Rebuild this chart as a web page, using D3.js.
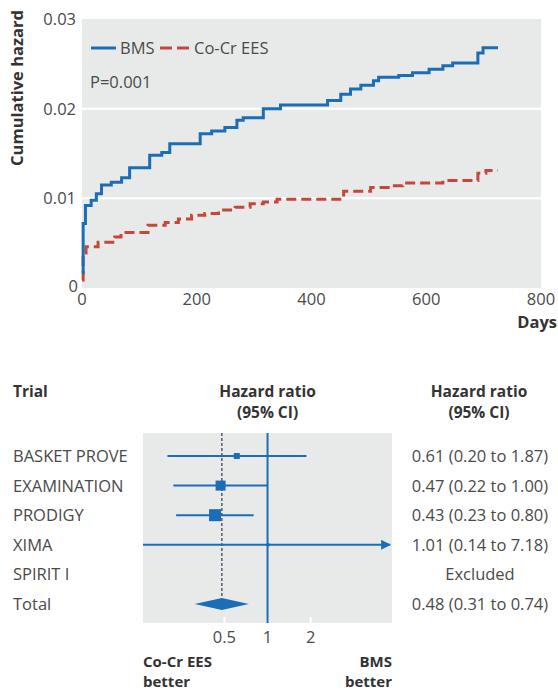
<!DOCTYPE html>
<html lang="en">
<head>
<meta charset="utf-8">
<script src="https://d3js.org/d3.v7.min.js"></script>
<style>
  body { margin: 0; background: #fff; }
  svg text { font-family: "Open Sans", "Noto Sans", sans-serif; fill: #4a4a4a; }
</style>
</head>
<body>
<div id="chart"></div>
<script>
// cumulative hazard, step points [day, hazard]
const bmsDays   = [0, 2, 6, 16, 25, 34, 51, 69, 83, 118, 139, 153, 206, 226, 249, 270, 281, 316, 346, 428, 451, 468, 486, 508, 517, 552, 576, 605, 629, 646, 690, 699, 725];
const bmsHazard = [0.0017, 0.0072, 0.0092, 0.0098, 0.0105, 0.0115, 0.0118, 0.0123, 0.0134, 0.0148, 0.0151, 0.0161, 0.0172, 0.0175, 0.0179, 0.0187, 0.019, 0.020, 0.0204, 0.0209, 0.0216, 0.0222, 0.0226, 0.0231, 0.0235, 0.0237, 0.024, 0.0244, 0.0248, 0.0251, 0.0262, 0.0268, 0.0268];
const eesDays   = [0, 2, 7, 28, 57, 68, 115, 145, 168, 191, 214, 238, 267, 293, 316, 340, 456, 503, 538, 559, 629, 690, 704, 725];
const eesHazard = [0.0009, 0.0039, 0.0046, 0.0051, 0.0057, 0.0062, 0.007, 0.0073, 0.0077, 0.0081, 0.0083, 0.0087, 0.009, 0.0094, 0.0096, 0.0099, 0.0108, 0.0112, 0.0114, 0.0117, 0.012, 0.0128, 0.0131, 0.0131];
const xTicks = [0, 200, 400, 600, 800];
const yTicks = [0, 0.01, 0.02, 0.03];

// forest plot
const trials = ["BASKET PROVE", "EXAMINATION", "PRODIGY", "XIMA", "SPIRIT I", "Total"];
const hr     = [0.61, 0.47, 0.43, 1.01, null, 0.48];
const ciLow  = [0.20, 0.22, 0.23, 0.14, null, 0.31];
const ciHigh = [1.87, 1.00, 0.80, 7.18, null, 0.74];
const boxSize = [6, 10, 12, 3, 0, 0];
const hrLabels = ["0.61 (0.20 to 1.87)", "0.47 (0.22 to 1.00)", "0.43 (0.23 to 0.80)", "1.01 (0.14 to 7.18)", "Excluded", "0.48 (0.31 to 0.74)"];
const hrTicks = [0.5, 1, 2];

const blue = "#1b6db5", red = "#c4473a", panel = "#e8eaea", dark = "#333";
const fs = 16.5;

const svg = d3.select("#chart").append("svg").attr("width", 558).attr("height", 695);

// ---------- top: cumulative hazard ----------
const x = d3.scaleLinear().domain([0, 800]).range([82, 541]);
const y = d3.scaleLinear().domain([0, 0.03]).range([288, 19]);

svg.append("rect").attr("x", x(0)).attr("y", y(0.03))
   .attr("width", x(800) - x(0)).attr("height", y(0) - y(0.03)).attr("fill", panel);

svg.selectAll(".grid").data([0.01, 0.02]).enter().append("line")
   .attr("x1", x(0)).attr("x2", x(800)).attr("y1", d => y(d)).attr("y2", d => y(d))
   .attr("stroke", "#fff").attr("stroke-width", 2);

const line = d3.line().x(d => x(d[0])).y(d => y(d[1])).curve(d3.curveStepAfter);

svg.append("path").datum(eesDays.map((d, i) => [d, eesHazard[i]]))
   .attr("d", line).attr("fill", "none").attr("stroke", red)
   .attr("stroke-width", 3).attr("stroke-dasharray", "10,5");
svg.append("path").datum(bmsDays.map((d, i) => [d, bmsHazard[i]]))
   .attr("d", line).attr("fill", "none").attr("stroke", blue).attr("stroke-width", 3);

svg.selectAll(".ytick").data(yTicks).enter().append("text")
   .attr("x", d => d === 0 ? 78 : 76).attr("y", d => d === 0 ? 292 : y(d) + 6)
   .attr("text-anchor", "end").attr("font-size", fs)
   .text(d => d === 0 ? "0" : d3.format(".2f")(d));

svg.selectAll(".xtick").data(xTicks).enter().append("text")
   .attr("x", d => x(d)).attr("y", 305).attr("text-anchor", "middle").attr("font-size", fs)
   .text(d => d);

svg.append("text").attr("transform", "translate(23,88) rotate(-90)")
   .attr("text-anchor", "middle").attr("font-size", fs).attr("font-weight", "bold")
   .style("fill", dark).text("Cumulative hazard");
svg.append("text").attr("x", 557).attr("y", 328).attr("text-anchor", "end")
   .attr("font-size", fs).attr("font-weight", "bold").style("fill", dark).text("Days");

// legend
svg.append("line").attr("x1", 91).attr("x2", 116).attr("y1", 48).attr("y2", 48)
   .attr("stroke", blue).attr("stroke-width", 3);
svg.append("text").attr("x", 120).attr("y", 54).attr("font-size", fs).text("BMS");
svg.append("line").attr("x1", 160).attr("x2", 190).attr("y1", 48).attr("y2", 48)
   .attr("stroke", red).attr("stroke-width", 3).attr("stroke-dasharray", "12,5");
svg.append("text").attr("x", 194).attr("y", 54).attr("font-size", fs).text("Co-Cr EES");
svg.append("text").attr("x", 90).attr("y", 88).attr("font-size", fs).text("P=0.001");

// ---------- bottom: forest plot ----------
const fx = d3.scaleLog().domain([0.135, 7.4]).range([143, 392]);
const fy = d3.scalePoint().domain(trials).range([456, 604]);
const pTop = 433, pBot = 623;

svg.append("rect").attr("x", fx.range()[0]).attr("y", pTop)
   .attr("width", fx.range()[1] - fx.range()[0]).attr("height", pBot - pTop).attr("fill", panel);

svg.append("text").attr("x", 13).attr("y", 397).attr("font-size", 15.5).attr("font-weight", "bold")
   .style("fill", dark).text("Trial");
[["Hazard ratio", 397], ["(95% CI)", 418]].forEach(([t, yy]) => {
  svg.append("text").attr("x", fx(1)).attr("y", yy).attr("text-anchor", "middle")
     .attr("font-size", 15.5).attr("font-weight", "bold").style("fill", dark).text(t);
  svg.append("text").attr("x", 479).attr("y", yy).attr("text-anchor", "middle")
     .attr("font-size", 15.5).attr("font-weight", "bold").style("fill", dark).text(t);
});

svg.selectAll(".trial").data(trials).enter().append("text")
   .attr("x", 13).attr("y", d => fy(d) + 6).attr("font-size", fs).text(d => d);
svg.selectAll(".hrlab").data(hrLabels).enter().append("text")
   .attr("x", 480).attr("y", (d, i) => fy(trials[i]) + 6).attr("text-anchor", "middle")
   .attr("font-size", fs).text(d => d);

// white ticks at panel bottom
svg.selectAll(".ftick").data(hrTicks).enter().append("line")
   .attr("x1", d => fx(d)).attr("x2", d => fx(d)).attr("y1", pBot - 6).attr("y2", pBot)
   .attr("stroke", "#fff").attr("stroke-width", 2);
svg.selectAll(".fticklab").data(hrTicks).enter().append("text")
   .attr("x", d => fx(d)).attr("y", 643).attr("text-anchor", "middle").attr("font-size", fs)
   .text(d => d);

// pooled estimate dashed line and no-effect line
const totalIdx = trials.indexOf("Total");
svg.append("line").attr("x1", fx(hr[totalIdx])).attr("x2", fx(hr[totalIdx]))
   .attr("y1", pTop).attr("y2", fy("Total") - 6)
   .attr("stroke", "#2b3a4a").attr("stroke-width", 1.2).attr("stroke-dasharray", "3,2");
svg.append("line").attr("x1", fx(1)).attr("x2", fx(1)).attr("y1", pTop).attr("y2", pBot)
   .attr("stroke", blue).attr("stroke-width", 2);

const rows = trials.map((t, i) => ({ t, hr: hr[i], lo: ciLow[i], hi: ciHigh[i], s: boxSize[i] }))
                   .filter(d => d.hr !== null && d.t !== "Total");

svg.append("defs").append("marker").attr("id", "arrow").attr("viewBox", "0 0 10 10")
   .attr("refX", 9).attr("refY", 5).attr("markerWidth", 5).attr("markerHeight", 5)
   .attr("orient", "auto").append("path").attr("d", "M0,0L10,5L0,10z").attr("fill", blue);

svg.selectAll(".ci").data(rows).enter().append("line")
   .attr("x1", d => d.t === "XIMA" ? fx.range()[0] : fx(d.lo))
   .attr("x2", d => fx(d.hi)).attr("y1", d => fy(d.t)).attr("y2", d => fy(d.t))
   .attr("stroke", blue).attr("stroke-width", 2)
   .attr("marker-end", d => d.t === "XIMA" ? "url(#arrow)" : null);
svg.selectAll(".box").data(rows).enter().append("rect")
   .attr("x", d => fx(d.hr) - d.s / 2).attr("y", d => fy(d.t) - d.s / 2)
   .attr("width", d => d.s).attr("height", d => d.s).attr("fill", blue);

const ty = fy("Total");
svg.append("path")
   .attr("d", `M${fx(ciLow[totalIdx])},${ty}L${fx(hr[totalIdx])},${ty - 6}L${fx(ciHigh[totalIdx])},${ty}L${fx(hr[totalIdx])},${ty + 6}Z`)
   .attr("fill", blue);

// favour labels
[["Co-Cr EES", 667, 143, "start"], ["better", 687, 143, "start"],
 ["BMS", 667, 392, "end"], ["better", 687, 392, "end"]].forEach(([t, yy, xx, a]) => {
  svg.append("text").attr("x", xx).attr("y", yy).attr("text-anchor", a)
     .attr("font-size", 15).attr("font-weight", "bold").style("fill", dark).text(t);
});
</script>
</body>
</html>
